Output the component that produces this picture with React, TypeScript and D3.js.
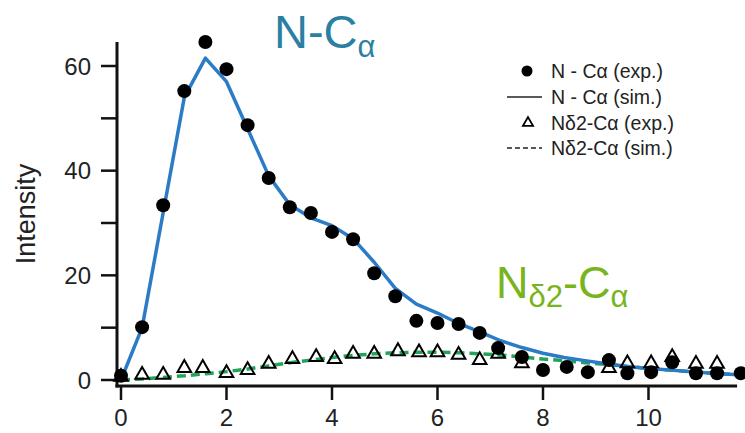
import React, { useEffect, useRef } from "react";
import * as d3 from "d3";

// N-Cα experimental points (filled dots)
const expNX = [0, 0.4, 0.8, 1.2, 1.6, 2.0, 2.4, 2.8, 3.2, 3.6, 4.0, 4.4, 4.8, 5.2, 5.6, 6.0, 6.4, 6.8, 7.15, 7.6, 8.0, 8.45, 8.85, 9.25, 9.6, 10.05, 10.45, 10.9, 11.3, 11.75];
const expNY = [0.8, 10.1, 33.4, 55.2, 64.6, 59.4, 48.7, 38.6, 33.0, 31.9, 28.3, 26.9, 20.4, 16.0, 11.3, 10.9, 10.7, 9.0, 6.1, 4.4, 1.9, 2.5, 1.5, 3.8, 1.3, 1.5, 3.4, 1.3, 1.3, 1.3];

// Nδ2-Cα experimental points (open triangles)
const expDX = [0, 0.4, 0.8, 1.2, 1.55, 2.0, 2.4, 2.8, 3.25, 3.7, 4.05, 4.4, 4.8, 5.25, 5.65, 6.0, 6.4, 6.8, 7.15, 7.6, 9.25, 9.6, 10.05, 10.45, 10.9, 11.3];
const expDY = [0.6, 1.0, 1.0, 2.3, 2.3, 1.3, 1.9, 3.1, 4.0, 4.4, 4.0, 5.0, 5.0, 5.5, 5.3, 5.3, 4.8, 3.8, 5.0, 3.2, 2.3, 3.2, 3.2, 4.4, 3.1, 3.1];

// simulated curves
const simX = [0, 0.4, 0.8, 1.2, 1.6, 2.0, 2.4, 2.8, 3.2, 3.6, 4.0, 4.4, 4.8, 5.2, 5.6, 6.0, 6.4, 6.8, 7.2, 7.6, 8.0, 8.4, 8.8, 9.2, 9.6, 10.0, 10.4, 10.8, 11.2, 11.7];
const simN = [0, 10, 32, 54, 61.5, 57, 48, 39, 33.5, 31, 29.5, 27, 22.5, 17.5, 14.5, 12.8, 10.8, 9.2, 7.5, 6.2, 5.1, 4.3, 3.7, 3.1, 2.6, 2.2, 1.9, 1.6, 1.3, 1.0];
const simD = [0, 0.2, 0.5, 0.8, 1.2, 1.6, 2.1, 2.7, 3.3, 3.8, 4.3, 4.7, 5.0, 5.2, 5.3, 5.3, 5.2, 5.0, 4.8, 4.4, 4.0, 3.7, 3.3, 3.0, 2.6, 2.2, 1.9, 1.6, 1.3, 1.0];

const xTicks = [0, 2, 4, 6, 8, 10];
const yTicks = [0, 10, 20, 30, 40, 50, 60];
const yLabels = [0, 20, 40, 60];

const legendItems = ["N - C\u03b1 (exp.)", "N - C\u03b1 (sim.)", "N\u03b42-C\u03b1 (exp.)", "N\u03b42-C\u03b1 (sim.)"];

const W = 745;
const H = 433;
const FONT = "'Liberation Sans', Arial, Helvetica, sans-serif";
const BLUE = "#2b7bc6";
const GREEN = "#22a35a";

export default function App() {
  const svgRef = useRef<SVGSVGElement | null>(null);

  useEffect(() => {
    const svg = d3.select(svgRef.current);
    svg.selectAll("*").remove();

    const x = d3.scaleLinear().domain([0, 11.75]).range([121, 740.8]);
    const y = d3.scaleLinear().domain([0, 60]).range([380, 66]);

    const axisX0 = 117;
    const axisY0 = 386;

    // axis lines
    svg.append("line")
      .attr("x1", axisX0).attr("x2", axisX0)
      .attr("y1", axisY0 + 1.5).attr("y2", y(64.6))
      .attr("stroke", "#111").attr("stroke-width", 3);
    svg.append("line")
      .attr("x1", axisX0 - 1.5).attr("x2", x(11.68))
      .attr("y1", axisY0).attr("y2", axisY0)
      .attr("stroke", "#111").attr("stroke-width", 3);

    // y ticks
    svg.append("g").selectAll("line")
      .data(yTicks)
      .join("line")
      .attr("x1", axisX0 - 16).attr("x2", axisX0)
      .attr("y1", d => y(d)).attr("y2", d => y(d))
      .attr("stroke", "#111").attr("stroke-width", 2.5);
    svg.append("g").selectAll("text")
      .data(yLabels)
      .join("text")
      .attr("x", 91).attr("y", d => y(d) + 8.5)
      .attr("text-anchor", "end")
      .style("font-family", FONT).style("font-size", "24px").style("fill", "#222")
      .text(d => d);

    // x ticks
    svg.append("g").selectAll("line")
      .data(xTicks)
      .join("line")
      .attr("x1", d => x(d)).attr("x2", d => x(d))
      .attr("y1", axisY0).attr("y2", axisY0 + 14)
      .attr("stroke", "#111").attr("stroke-width", 2.5);
    svg.append("g").selectAll("text")
      .data(xTicks)
      .join("text")
      .attr("x", d => x(d)).attr("y", 426)
      .attr("text-anchor", "middle")
      .style("font-family", FONT).style("font-size", "24px").style("fill", "#222")
      .text(d => d);

    svg.append("text")
      .attr("transform", `translate(35,214) rotate(-90)`)
      .attr("text-anchor", "middle")
      .style("font-family", FONT).style("font-size", "27px").style("fill", "#222")
      .text("Intensity");

    // simulated curves
    const lineN = d3.line<number>().x((d, i) => x(simX[i])).y(d => y(d));
    svg.append("path")
      .attr("d", lineN(simD))
      .attr("fill", "none").attr("stroke", GREEN).attr("stroke-width", 3.5)
      .attr("stroke-dasharray", "9,5");
    svg.append("path")
      .attr("d", lineN(simN))
      .attr("fill", "none").attr("stroke", BLUE).attr("stroke-width", 3.5)
      .attr("stroke-linejoin", "round");

    // experimental points
    svg.append("g").selectAll("circle")
      .data(expNY)
      .join("circle")
      .attr("cx", (d, i) => x(expNX[i])).attr("cy", d => y(d))
      .attr("r", 7).attr("fill", "#000");

    const tri = d3.symbol().type(d3.symbolTriangle).size(80);
    svg.append("g").selectAll("path")
      .data(expDY)
      .join("path")
      .attr("transform", (d, i) => `translate(${x(expDX[i])},${y(d)})`)
      .attr("d", tri()!)
      .attr("fill", "none").attr("stroke", "#000").attr("stroke-width", 2);

    // annotations
    const t1 = svg.append("text")
      .attr("x", 274).attr("y", 48)
      .style("font-family", FONT).style("font-size", "47px").style("fill", "#2b7fa3");
    t1.append("tspan").text("N-C");
    t1.append("tspan").attr("dy", 9).style("font-size", "31px").text("\u03b1");

    const t2 = svg.append("text")
      .attr("x", 496).attr("y", 298)
      .style("font-family", FONT).style("font-size", "45px").style("fill", "#78b41c");
    t2.append("tspan").text("N");
    t2.append("tspan").attr("dy", 9).style("font-size", "31px").text("\u03b42");
    t2.append("tspan").attr("dy", -9).text("-C");
    t2.append("tspan").attr("dy", 9).style("font-size", "31px").text("\u03b1");

    // legend
    const legend = svg.append("g");
    const rowY = [71, 97, 123, 148];
    legendItems.forEach((label, i) => {
      legend.append("text")
        .attr("x", 551).attr("y", rowY[i] + 7)
        .style("font-family", FONT).style("font-size", "19.5px").style("fill", "#222")
        .text(label);
    });
    legend.append("circle").attr("cx", 527).attr("cy", rowY[0]).attr("r", 5.5).attr("fill", "#000");
    legend.append("line").attr("x1", 507).attr("x2", 542).attr("y1", rowY[1]).attr("y2", rowY[1])
      .attr("stroke", "#222").attr("stroke-width", 1.5);
    legend.append("path")
      .attr("transform", `translate(528,${rowY[2]})`)
      .attr("d", d3.symbol().type(d3.symbolTriangle).size(45)()!)
      .attr("fill", "none").attr("stroke", "#000").attr("stroke-width", 1.8);
    legend.append("line").attr("x1", 507).attr("x2", 542).attr("y1", rowY[3]).attr("y2", rowY[3])
      .attr("stroke", "#222").attr("stroke-width", 1.5).attr("stroke-dasharray", "5,3");
  }, []);

  return (
    <svg
      ref={svgRef}
      width={W}
      height={H}
      style={{ position: "absolute", left: 0, top: 0, background: "#fff" }}
    />
  );
}
